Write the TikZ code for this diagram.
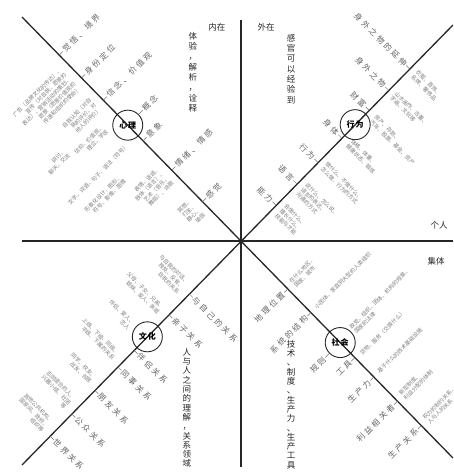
\documentclass[tikz,border=0pt]{standalone}
\usepackage{fontspec}
\setmainfont{Noto Sans CJK SC}
\newfontfamily\lblfont[LetterSpace=30]{Noto Sans CJK SC}
\usetikzlibrary{calc}

\begin{document}
\begin{tikzpicture}[x=1pt, y=1pt,
    mainline/.style={line width=1.3pt, black!85},
    notch/.style={line width=0.5pt, black!55},
    ring/.style={draw=black!85, circle, line width=0.9pt, minimum size=30pt,
      inner sep=0pt, font=\fontsize{8}{8}\selectfont\bfseries},
    quadhead/.style={font=\fontsize{8.5}{10}\selectfont, text=black!85, inner sep=0pt},
    vcol/.style={align=center, inner sep=0pt, text=black!85,
      font=\fontsize{8.5}{10.3}\selectfont},
    lbl/.style={font=\lblfont\fontsize{8}{9}\selectfont, text=black!60, inner sep=1pt},
    note/.style={font=\fontsize{5.5}{6.6}\selectfont, text=black!50, inner sep=0.5pt}]

    \useasboundingbox (-241,-233) rectangle (212,241);
    \clip (-241,-233) rectangle (212,241);
    \fill[white] (-241,-233) rectangle (212,241);

    \coordinate (O) at (0,0);
    \coordinate (N) at (0,221);
    \coordinate (S) at (0,-226);
    \coordinate (W) at (-219,0);
    \coordinate (E) at (212,0);
    \coordinate (UL) at (-219,224);
    \coordinate (UR) at (212,216);
    \coordinate (LL) at (-219,-224);
    \coordinate (LR) at (212,-217);

    \draw[mainline] (N) -- (S);
    \draw[mainline] (W) -- (E);
    \draw[mainline] (UL) -- (LR);
    \draw[mainline] (UR) -- (LL);

    \node[ring] (xinli) at ($(O)!162pt!(UL)$) {心\hspace{1pt}理};
    \node[ring] (xingwei) at ($(O)!163pt!(UR)$) {行\hspace{1pt}为};
    \node[ring] (wenhua) at ($(O)!134pt!(LL)$) {文\hspace{1pt}化};
    \node[ring] (shehui) at ($(O)!142pt!(LR)$) {社\hspace{1pt}会};

    \node[quadhead] (nei) at (-24,214) {内在};
    \node[quadhead] (wai) at (25,214) {外在};
    \node[quadhead] (geren) at (198,16) {个人};
    \node[quadhead] (jiti) at (195,-20) {集体};

    \node[vcol, anchor=north] (tiyan) at (-48,209) {体\\验\\，\\解\\析\\，\\诠\\释};
    \node[vcol, anchor=north] (ganguan) at (50,207) {感\\官\\可\\以\\经\\验\\到};
    \node[vcol, anchor=north, font=\fontsize{8.5}{9.3}\selectfont] (lijie) at (-54,-107)
      {人\\与\\人\\之\\间\\的\\理\\解\\，\\关\\系\\领\\域};
    \node[vcol, anchor=north, font=\fontsize{8.5}{9.3}\selectfont] (jishu) at (50,-99)
      {技\\术\\、\\制\\度\\、\\生\\产\\力\\、\\生\\产\\工\\具};

    \foreach \dd/\gp/\txt [count=\i] in {260/0/觉悟、境界, 228/0/身份定位, 197/0/信念、价值观,
        162/16/概念, 140/0/意象, 99/0/情绪、情感, 55/0/感觉}{
      \coordinate (ul-\i) at ($(O)!\dd pt!(UL)+(45:\gp pt)$);
      \node[lbl, rotate=45, anchor=west] (ulT-\i) at ($(ul-\i)+(45:5pt)$) {\txt};
      \draw[notch] (ul-\i) -- (ulT-\i.west);
    }
    \foreach \dd/\gp/\txt [count=\i] in {
        236/8/{广告（品牌文化的传达）、\\宣传（对自我、愿景的\\表达）、营销活动的策划、\\愿景（愿景价值观的\\传递和组织的使命）},
        200/8/{自我认知（对自\\我的评价、对\\他人的评价）},
        176/18/{信仰、价值观、\\理念、学说},
        186/62/{研讨、\\聊天、交流},
        148/14/{文字、词语、句子、语法（符号）},
        128/40/{形象化设计、图形、\\符号、影像、图像},
        100/7/{表情、语调、\\肢体（语言）、\\艺术（音乐、\\舞蹈）、诗歌},
        55/7/{冥想、\\打坐、\\静心、\\瑜伽}}{
      \node[note, rotate=45, anchor=east, align=right] (ulN-\i) at ($(O)!\dd pt!(UL)+(225:\gp pt)$) {\txt};
    }

    \foreach \dd/\gp/\txt [count=\i] in {241/0/身外之物的延伸, 211/0/身外之物, 183/0/财富,
        144/0/身体, 110/0/行为, 80/0/语言, 50/0/能力}{
      \coordinate (ur-\i) at ($(O)!\dd pt!(UR)+(135:\gp pt)$);
      \node[lbl, rotate=-45, anchor=east] (urT-\i) at ($(ur-\i)+(135:5pt)$) {\txt};
      \draw[notch] (ur-\i) -- (urT-\i.east);
    }
    \foreach \dd/\gp/\txt [count=\i] in {
        241/6/{衣服、首饰、\\名牌、奢侈品},
        211/6/{山水画作、古董、\\字画、文玩等},
        180/8/{房产、存款、\\汽车、股票、基金、资产},
        146/8/{体格、体重、\\健康状态、锻炼},
        112/6/{做什么、不做什么、\\怎么做、行为的方式},
        80/6/{说什么、怎么说、\\语言的表达、\\沟通的方式},
        50/6/{会做什么、\\擅长什么、\\技能与才能}}{
      \node[note, rotate=-45, anchor=west, align=left] (urN-\i) at ($(O)!\dd pt!(UR)+(-45:\gp pt)$) {\txt};
    }

    \foreach \dd/\gp/\txt [count=\i] in {74/0/与自己的关系, 103/0/亲子关系, 153/0/伴侣关系,
        176/0/同事关系, 209/0/朋友关系, 242/0/公众关系, 273/0/世界关系}{
      \coordinate (ll-\i) at ($(O)!\dd pt!(LL)+(-45:\gp pt)$);
      \node[lbl, rotate=-45, anchor=west] (llT-\i) at ($(ll-\i)+(-45:5pt)$) {\txt};
      \draw[notch] (ll-\i) -- (llT-\i.west);
    }
    \foreach \dd/\gp/\txt [count=\i] in {
        74/8/{与自我的对话、\\独处、反省、\\自我的关系},
        106/8/{父母、子女、兄弟、\\姐妹、家人、亲戚},
        138/18/{伴侣、爱人、\\恋人},
        170/8/{上级、下级、同级、\\平级、下属的关系},
        203/8/{同学、校友、\\战友、邻居},
        236/8/{志同道合的人、\\兴趣小组、社团\\等},
        268/8/{其他公共机构、\\国家间、政府、\\组织等}}{
      \node[note, rotate=-45, anchor=east, align=right] (llN-\i) at ($(O)!\dd pt!(LL)+(135:\gp pt)$) {\txt};
    }

    \foreach \dd/\gp/\txt [count=\i] in {67/0/地理位置, 100/0/系统的结构, 142/16/规则,
        163/0/工具, 190/0/生产力, 224/0/利益相关者, 258/0/生产关系}{
      \coordinate (lr-\i) at ($(O)!\dd pt!(LR)+(225:\gp pt)$);
      \node[lbl, rotate=45, anchor=east] (lrT-\i) at ($(lr-\i)+(225:5pt)$) {\txt};
      \draw[notch] (lr-\i) -- (lrT-\i.east);
    }
    \foreach \dd/\gp/\txt [count=\i] in {
        67/6/{在什么地区、\\国家、城市},
        100/6/{小团体、家庭到大型的人类组织},
        142/17/{政党、组织、团体、机构的规章、\\国家的法律},
        165/6/{货物、服务（交换什么）},
        190/6/{基于什么的技术基础设施},
        224/6/{新型制度、\\利益分配的体制},
        258/6/{权力的制约关系、\\人与人的关系}}{
      \node[note, rotate=45, anchor=west, align=left] (lrN-\i) at ($(O)!\dd pt!(LR)+(45:\gp pt)$) {\txt};
    }
\end{tikzpicture}
\end{document}
